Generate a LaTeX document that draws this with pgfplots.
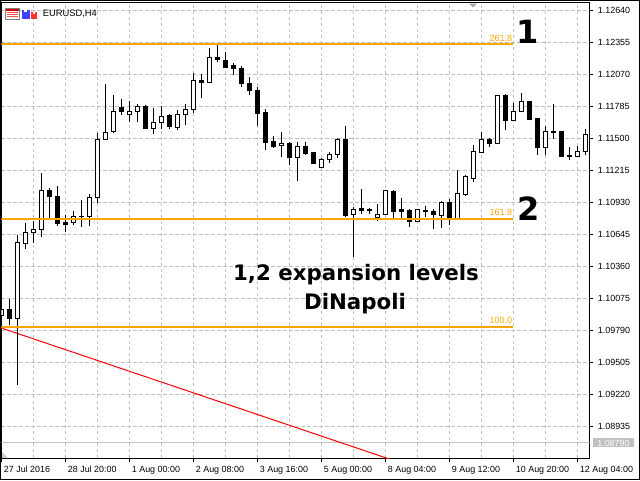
\documentclass[border=0pt]{standalone}
\usepackage{pgfplots}
\pgfplotsset{compat=1.18}
\usepackage{pgfplotstable}
\usepackage{fontspec}
\setmainfont{Liberation Sans}
\newfontfamily\dvs{DejaVu Sans}
\definecolor{gridgray}{HTML}{C0C0C0}
\definecolor{lvl}{HTML}{FFA500}

\pgfplotstableread{
i o h l c
0 1.09930 1.10019 1.09903 1.09983
1 1.09981 1.10070 1.09841 1.09897
2 1.09897 1.10640 1.09307 1.10580
3 1.10568 1.10747 1.10515 1.10666
4 1.10663 1.10770 1.10574 1.10693
5 1.10693 1.11197 1.10627 1.11041
6 1.11041 1.11058 1.10791 1.10984
7 1.10990 1.11082 1.10725 1.10747
8 1.10758 1.10821 1.10669 1.10740
9 1.10756 1.10856 1.10729 1.10805
10 1.10805 1.10954 1.10716 1.10812
11 1.10805 1.11008 1.10725 1.10978
12 1.10978 1.11551 1.10927 1.11497
13 1.11495 1.11985 1.11486 1.11560
14 1.11566 1.11889 1.11554 1.11747
15 1.11782 1.11854 1.11714 1.11741
16 1.11720 1.11836 1.11649 1.11744
17 1.11744 1.11809 1.11651 1.11789
18 1.11791 1.11798 1.11586 1.11589
19 1.11589 1.11774 1.11545 1.11649
20 1.11646 1.11791 1.11586 1.11700
21 1.11708 1.11720 1.11584 1.11607
22 1.11598 1.11756 1.11575 1.11717
23 1.11714 1.11809 1.11619 1.11762
24 1.11762 1.12085 1.11732 1.12020
25 1.12020 1.12076 1.11867 1.12001
26 1.12002 1.12305 1.11996 1.12225
27 1.12225 1.12337 1.12183 1.12204
28 1.12201 1.12272 1.12130 1.12132
29 1.12150 1.12177 1.12070 1.12124
30 1.12127 1.12150 1.11963 1.11990
31 1.11996 1.12047 1.11889 1.11928
32 1.11934 1.11958 1.11616 1.11723
33 1.11735 1.11765 1.11395 1.11464
34 1.11480 1.11524 1.11422 1.11435
35 1.11439 1.11557 1.11340 1.11462
36 1.11462 1.11473 1.11266 1.11334
37 1.11334 1.11473 1.11126 1.11432
38 1.11435 1.11473 1.11355 1.11370
39 1.11373 1.11377 1.11272 1.11281
40 1.11245 1.11326 1.11244 1.11317
41 1.11317 1.11379 1.11281 1.11364
42 1.11361 1.11504 1.11326 1.11495
43 1.11495 1.11616 1.10800 1.10821
44 1.10827 1.10894 1.10449 1.10871
45 1.10880 1.11052 1.10827 1.10859
46 1.10874 1.10887 1.10829 1.10861
47 1.10800 1.10919 1.10764 1.10827
48 1.10827 1.11046 1.10825 1.11041
49 1.11034 1.11043 1.10791 1.10850
50 1.10868 1.10969 1.10791 1.10854
51 1.10865 1.10871 1.10711 1.10761
52 1.10764 1.10877 1.10763 1.10874
53 1.10856 1.10898 1.10800 1.10859
54 1.10856 1.10871 1.10693 1.10823
55 1.10814 1.10945 1.10702 1.10936
56 1.10934 1.10960 1.10734 1.10797
57 1.10791 1.11219 1.10773 1.11014
58 1.11008 1.11181 1.10994 1.11168
59 1.11144 1.11444 1.11112 1.11382
60 1.11379 1.11562 1.11377 1.11497
61 1.11497 1.11509 1.11426 1.11456
62 1.11457 1.11895 1.11456 1.11887
63 1.11887 1.11895 1.11578 1.11660
64 1.11664 1.11818 1.11662 1.11744
65 1.11744 1.11907 1.11742 1.11833
66 1.11836 1.11836 1.11664 1.11669
67 1.11678 1.11680 1.11358 1.11422
68 1.11422 1.11613 1.11358 1.11567
69 1.11566 1.11814 1.11495 1.11562
70 1.11566 1.11571 1.11337 1.11346
71 1.11355 1.11429 1.11310 1.11342
72 1.11343 1.11438 1.11342 1.11388
73 1.11388 1.11589 1.11352 1.11539
}\candles

\begin{document}
\begin{tikzpicture}
\path[use as bounding box] (0,0) rectangle (480pt,360pt);
\begin{axis}[
  at={(0.975pt,16.275pt)}, anchor=south west,
  scale only axis, width=441.3pt, height=341.7pt,
  xmin=0, xmax=73.55, ymin=1.086537, ymax=1.12711,
  axis line style={line width=0.75pt},
  tick align=outside, xtick pos=bottom, ytick pos=right, yticklabel pos=right,
  major tick length=2.6pt, minor tick length=0pt,
  tick style={black, line width=0.75pt},
  xtick={0,8,...,72},
  xticklabels={27 Jul 2016, 28 Jul 20:00, 1 Aug 00:00, 2 Aug 08:00, 3 Aug 16:00, 5 Aug 00:00, 8 Aug 04:00, 9 Aug 12:00, 10 Aug 20:00, 12 Aug 04:00},
  minor xtick={4,12,...,68},
  ytick={1.08935,1.09220,1.09505,1.09790,1.10075,1.10360,1.10645,1.10930,1.11215,1.11500,1.11785,1.12070,1.12355,1.12640},
  scaled y ticks=false,
  /pgf/number format/assume math mode=true,
  yticklabel style={/pgf/number format/fixed, /pgf/number format/fixed zerofill, /pgf/number format/precision=5, anchor=west, xshift=0pt},
  tick label style={font=\fontsize{6.7}{7}\selectfont},
  xticklabel style={anchor=north west, xshift=-1.6pt},
  grid=both,
  major grid style={gridgray, line width=0.75pt, dash pattern=on 2.5pt off 2pt},
  minor grid style={gridgray, line width=0.75pt, dash pattern=on 2.5pt off 2pt},
  clip mode=individual,
]
% bid line
\addplot[gridgray, line width=0.75pt] coordinates {(0,1.08790) (73.55,1.08790)};
% red trend line
\addplot[red, line width=0.75pt] coordinates {(0,1.09814) (60,1.08371)};
% wicks
\addplot[draw=none, mark=none, error bars/.cd, y dir=both, y explicit, error mark=none,
  error bar style={draw=black, line width=0.75pt, solid}]
  table[x=i, y expr={(\thisrow{h}+\thisrow{l})/2}, y error expr={(\thisrow{h}-\thisrow{l})/2}]{\candles};
% body outline / bearish bodies
\addplot[draw=none, mark=none, error bars/.cd, y dir=both, y explicit, error mark=none,
  error bar style={draw=black, line width=3.75pt, solid}]
  table[x=i, y expr={(\thisrow{o}+\thisrow{c})/2}, y error expr={abs(\thisrow{o}-\thisrow{c})/2+0.0000445}]{\candles};
% hollow interiors of bullish bodies
\addplot[draw=none, mark=none, error bars/.cd, y dir=both, y explicit, error mark=none,
  error bar style={draw=white, line width=2.25pt, solid}]
  table[x=i, y expr={(\thisrow{o}+\thisrow{c})/2}, y error expr={max((\thisrow{c}-\thisrow{o})/2-0.0000445,0)}]{\candles};
% DiNapoli expansion levels
\addplot[lvl, line width=1.5pt] coordinates {(0,1.12346) (64,1.12346)};
\addplot[lvl, line width=1.5pt] coordinates {(0,1.10788) (64,1.10788)};
\addplot[lvl, line width=1.5pt] coordinates {(0,1.09826) (64,1.09826)};
\node[anchor=base east, text=lvl, font=\fontsize{6.8}{7}\selectfont, inner sep=0pt, yshift=2pt] at (axis cs:63.9,1.12346) {261.8};
\node[anchor=base east, text=lvl, font=\fontsize{6.8}{7}\selectfont, inner sep=0pt, yshift=2pt] at (axis cs:63.9,1.10788) {161.8};
\node[anchor=base east, text=lvl, font=\fontsize{6.8}{7}\selectfont, inner sep=0pt, yshift=2pt] at (axis cs:63.9,1.09826) {100.0};
\node[anchor=west, fill=gridgray, text=white, font=\fontsize{6.7}{7}\selectfont, inner xsep=3pt, inner ysep=0pt, minimum height=6.75pt, xshift=2.5pt] at (axis cs:73.55,1.08790) {1.08790};
\end{axis}
\begin{scope}[shift={(0pt,360pt)}, x=0.75pt, y=-0.75pt]
  \draw[black, line width=0.75pt] (0.5,0.5) rectangle (639.5,479.5);
  % header
  \draw[gray, fill=white, line width=0.5pt] (5.5,8.5) rectangle (19.5,19);
  \fill[red!80!black] (6,9) rectangle (19,11);
  \foreach \yy in {12.5,14.5,16.5} {\draw[red!70, line width=0.6pt] (7,\yy) -- (18,\yy);}
  \fill[blue!75] (22,10) rectangle (29.5,19);
  \fill[white] (24,10) rectangle (27,12);
  \fill[red!80] (30.5,12) rectangle (37,19);
  \fill[white] (32.5,12) rectangle (35,14);
  \node[anchor=base west, inner sep=0pt, font=\fontsize{7}{8}\selectfont] at (42.7,16.8) {EURUSD,H4};
  % markers
  \fill[gray!70] (469,3.5) -- (477,3.5) -- (473,7.5) -- cycle;
  \fill[gray!40] (2,452) -- (2,458) -- (8,458) -- cycle;
  % annotations
  \node[font=\dvs\bfseries\fontsize{24}{26}\selectfont, inner sep=0pt] at (527.5,31.5) {1};
  \node[font=\dvs\bfseries\fontsize{24}{26}\selectfont, inner sep=0pt] at (528.5,209) {2};
  \node[anchor=base, font=\dvs\bfseries\fontsize{16}{17}\selectfont, inner sep=0pt] at (356,280.7) {1,2 expansion levels};
  \node[anchor=base, font=\dvs\bfseries\fontsize{16}{17}\selectfont, inner sep=0pt] at (355,309.3) {DiNapoli};
\end{scope}
\end{tikzpicture}
\end{document}
